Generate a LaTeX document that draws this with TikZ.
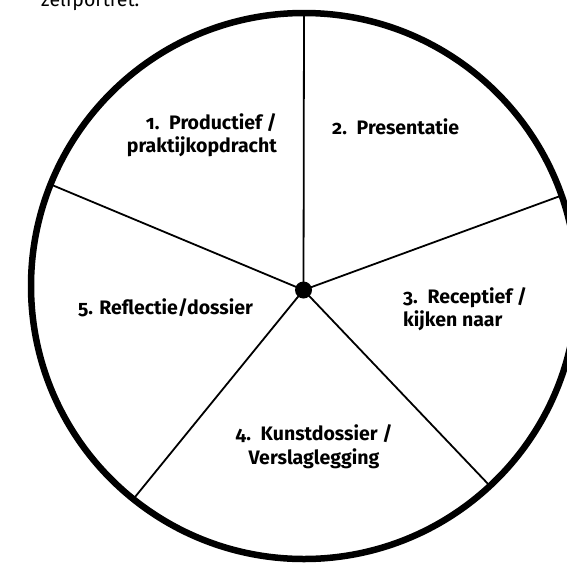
\documentclass[tikz,border=0pt]{standalone}
\usepackage{fontspec}
\setmainfont{Fira Sans}[Numbers=OldStyle]
\begin{document}
\begin{tikzpicture}[x=1pt,y=-1pt,
  spoke/.style={line width=1.8pt},
  rim/.style={line width=6.5pt},
  lbl/.style={font=\fontsize{19.5}{23.5}\selectfont\bfseries, inner sep=0pt}]
\useasboundingbox (0,0) rectangle (567,562);
\coordinate (O) at (304,286);
\coordinate (c) at (303.5,290);
\coordinate (e1) at (304,13);
\coordinate (e2) at (50.6,184.4);
\coordinate (e3) at (561.6,195.5);
\coordinate (e4) at (133.3,499.1);
\coordinate (e5) at (490,486);
\node[anchor=base west, inner sep=0pt, font=\fontsize{19.5}{22}\selectfont] (top) at (41,6) {zelfportret.};
\draw[rim] (O) circle[radius=273];
\foreach \e in {e1,e2,e3,e4,e5} \draw[spoke] (c) -- (\e);
\fill (c) circle[radius=8.5];
\node[lbl, align=right, anchor=east] (t1) at (277,135) {1.\enspace Productief /\\praktijkopdracht};
\node[lbl, anchor=west] (t2) at (332,127) {2.\enspace Presentatie};
\node[lbl, align=left, anchor=west] (t3) at (403,309) {3.\enspace Receptief /\\kijken naar};
\node[lbl, align=center] (t4) at (314,446.5) {4.\enspace Kunstdossier /\\Verslaglegging};
\node[lbl, anchor=west] (t5) at (78,308) {5. Reflectie/dossier};
\end{tikzpicture}
\end{document}
